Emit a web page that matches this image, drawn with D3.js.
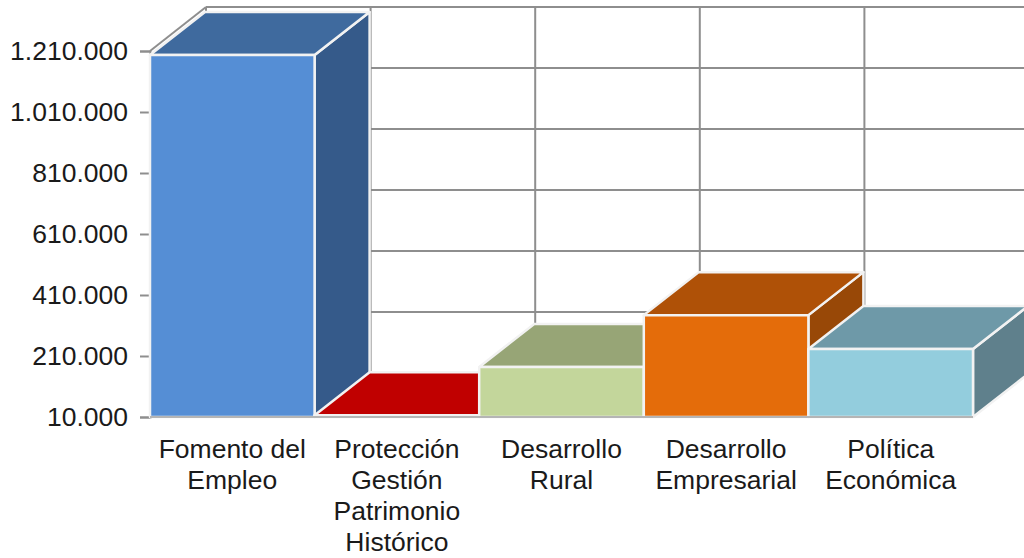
<!DOCTYPE html>
<html>
<head>
<meta charset="utf-8">
<script src="https://cdn.jsdelivr.net/npm/d3@7"></script>
<style>
  html, body { margin: 0; padding: 0; background: #fff; overflow: hidden; }
  text { font-family: "Liberation Sans", Arial, sans-serif; fill: #1a1a1a; }
</style>
</head>
<body>
<div id="viz"></div>
<script>
const categories = ['Fomento del Empleo', 'Protección Gestión Patrimonio Histórico', 'Desarrollo Rural', 'Desarrollo Empresarial', 'Política Económica'];
const categoryLines = [
  ['Fomento del', 'Empleo'],
  ['Protección', 'Gestión', 'Patrimonio', 'Histórico'],
  ['Desarrollo', 'Rural'],
  ['Desarrollo', 'Empresarial'],
  ['Política', 'Económica']
];
const values = [1197000, 16000, 174000, 344000, 233000];
const tickValues = [10000, 210000, 410000, 610000, 810000, 1010000, 1210000];
const frontColors = ['#558ed5', '#c00000', '#c3d69b', '#e46c0a', '#93cddd'];
const topColors = ['#3f6a9e', '#c00000', '#97a576', '#af5107', '#6e99a8'];
const sideColors = ['#355a8a', '#c00000', '#97a576', '#984807', '#5f808c'];

const canvasWidth = 1024;
const canvasHeight = 558;
const wallDepthX = 56;
const wallDepthY = -44;
const barDepthX = 55;
const barDepthY = -43;
const gridColor = '#8e8e8e';

const x = d3.scaleBand().domain(categories).range([150, 973]).padding(0);
const y = d3.scaleLinear().domain([10000, 1210000]).range([417, 51]);
const es = d3.formatLocale({ decimal: ',', thousands: '.', grouping: [3], currency: ['', '€'] });

const canvas = d3.select('#viz')
  .append('svg')
  .attr('width', canvasWidth)
  .attr('height', canvasHeight)
  .style('display', 'block');

// back wall
const wall = canvas.append('g').attr('stroke', gridColor).attr('stroke-width', 2);
wall.selectAll('line.h').data(tickValues.slice(1))
  .enter().append('line')
    .attr('class', 'h')
    .attr('x1', x.range()[0] + wallDepthX)
    .attr('x2', x.range()[1] + wallDepthX)
    .attr('y1', (d) => y(d) + wallDepthY)
    .attr('y2', (d) => y(d) + wallDepthY);
wall.selectAll('line.v').data(categories)
  .enter().append('line')
    .attr('class', 'v')
    .attr('x1', (d) => x(d) + wallDepthX)
    .attr('x2', (d) => x(d) + wallDepthX)
    .attr('y1', y(1210000) + wallDepthY)
    .attr('y2', y(10000) + wallDepthY);
wall.append('line')
  .attr('x1', x.range()[0]).attr('y1', y(1210000))
  .attr('x2', x.range()[0] + wallDepthX).attr('y2', y(1210000) + wallDepthY);

// y axis
const yAxis = d3.axisLeft(y)
  .tickValues(tickValues)
  .tickFormat(es.format(',d'))
  .tickSize(10)
  .tickPadding(12);
const yGroup = canvas.append('g')
  .attr('transform', `translate(${x.range()[0]},0)`)
  .call(yAxis);
yGroup.selectAll('.domain').attr('stroke', gridColor).attr('stroke-width', 2);
yGroup.selectAll('.tick line').attr('stroke', gridColor).attr('stroke-width', 2);
yGroup.selectAll('.tick text')
  .attr('font-size', 26.5)
  .style('font-family', '"Liberation Sans", Arial, sans-serif')
  .attr('fill', '#1a1a1a');

// bars, left to right so each one covers the side of the previous
const bars = canvas.append('g').selectAll('g').data(categories)
  .enter().append('g')
    .attr('stroke', '#f2f2f2')
    .attr('stroke-width', 2.5)
    .attr('stroke-linejoin', 'round');

const barTop = (i) => y(values[i]);

bars.append('polygon')
  .attr('fill', (d, i) => sideColors[i])
  .attr('points', (d, i) => {
    const r = x(d) + x.bandwidth();
    return [[r, y(10000)], [r, barTop(i)], [r + barDepthX, barTop(i) + barDepthY], [r + barDepthX, y(10000) + barDepthY]].join(' ');
  });

bars.append('polygon')
  .attr('fill', (d, i) => topColors[i])
  .attr('points', (d, i) => {
    const l = x(d);
    const r = l + x.bandwidth();
    return [[l, barTop(i)], [r, barTop(i)], [r + barDepthX, barTop(i) + barDepthY], [l + barDepthX, barTop(i) + barDepthY]].join(' ');
  });

bars.append('rect')
  .attr('fill', (d, i) => frontColors[i])
  .attr('x', (d) => x(d))
  .attr('y', (d, i) => barTop(i))
  .attr('width', x.bandwidth())
  .attr('height', (d, i) => y(10000) - barTop(i));

// base line
canvas.append('line')
  .attr('x1', x.range()[0]).attr('x2', x.range()[1])
  .attr('y1', y(10000)).attr('y2', y(10000))
  .attr('stroke', '#b5b5b5')
  .attr('stroke-width', 2);

// category labels
const labels = canvas.append('g').selectAll('text').data(categories)
  .enter().append('text')
    .attr('text-anchor', 'middle')
    .attr('font-size', 26.5);
labels.selectAll('tspan').data((d, i) => categoryLines[i].map((line) => ({ line, d })))
  .enter().append('tspan')
    .attr('x', (t) => x(t.d) + x.bandwidth() / 2)
    .attr('y', (t, j) => 458 + j * 31)
    .text((t) => t.line);
</script>
</body>
</html>
